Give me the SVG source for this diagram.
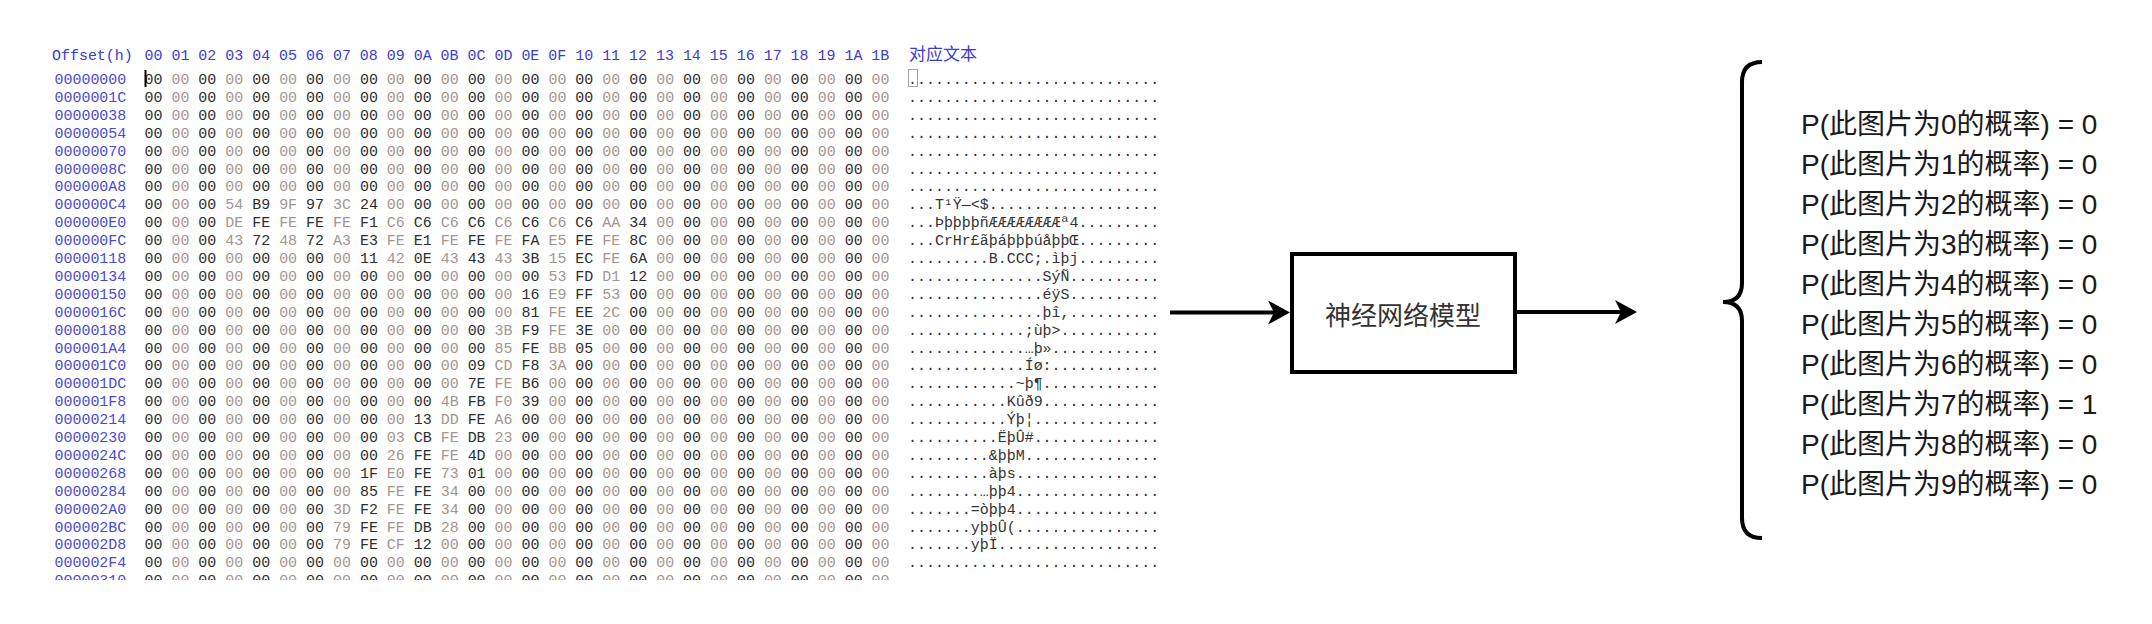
<svg xmlns="http://www.w3.org/2000/svg" width="2152" height="624" viewBox="0 0 2152 624">
<style>
.m{font-family:"Liberation Mono","DejaVu Sans Mono",monospace;font-size:14.96px;white-space:pre}
.h{fill:#3b3bd4}
.o{fill:#4a4ad8}
.d{fill:#2e2e2e}
.l{fill:#a3958f}
.t{fill:#333333}
.cjkh{font-family:"Noto Sans CJK SC","Liberation Sans",sans-serif;font-size:17px;fill:#3b3bd4}
.box{fill:#ffffff;stroke:#000000;stroke-width:4}
.lbl{font-family:"Noto Sans CJK SC","Liberation Sans",sans-serif;font-size:26px;fill:#333333}
.p{font-family:"Liberation Sans","Noto Sans CJK SC",sans-serif;font-size:28px;fill:#1a1a1a}
.conn{stroke:#000000;stroke-width:4;fill:none}
</style>
<defs>
<marker id="arrow" markerUnits="userSpaceOnUse" markerWidth="24" markerHeight="24" viewBox="0 0 24 24" refX="6" refY="12" orient="auto">
<path d="M0,0 L22,12 L0,24 L6,12 Z" fill="#000000"/>
</marker>
<clipPath id="hexclip"><rect x="0" y="0" width="1200" height="580"/></clipPath>
</defs>
<rect width="2152" height="624" fill="#ffffff"/>

<g id="hex-view" clip-path="url(#hexclip)">
<text class="m h" x="52" y="59.5">Offset(h)</text>
<text class="m h" x="144.5" y="59.5">00 01 02 03 04 05 06 07 08 09 0A 0B 0C 0D 0E 0F 10 11 12 13 14 15 16 17 18 19 1A 1B</text>
<text class="cjkh" x="909" y="59.5">对应文本</text>

<text class="m o" x="54.5" y="84">00000000</text>
<text class="m d" x="144.5" y="84">00 <tspan class="l">00</tspan> 00 <tspan class="l">00</tspan> 00 <tspan class="l">00</tspan> 00 <tspan class="l">00</tspan> 00 <tspan class="l">00</tspan> 00 <tspan class="l">00</tspan> 00 <tspan class="l">00</tspan> 00 <tspan class="l">00</tspan> 00 <tspan class="l">00</tspan> 00 <tspan class="l">00</tspan> 00 <tspan class="l">00</tspan> 00 <tspan class="l">00</tspan> 00 <tspan class="l">00</tspan> 00 <tspan class="l">00</tspan></text>
<text class="m t" x="908" y="84">............................</text>

<text class="m o" x="54.5" y="101.9">0000001C</text>
<text class="m d" x="144.5" y="101.9">00 <tspan class="l">00</tspan> 00 <tspan class="l">00</tspan> 00 <tspan class="l">00</tspan> 00 <tspan class="l">00</tspan> 00 <tspan class="l">00</tspan> 00 <tspan class="l">00</tspan> 00 <tspan class="l">00</tspan> 00 <tspan class="l">00</tspan> 00 <tspan class="l">00</tspan> 00 <tspan class="l">00</tspan> 00 <tspan class="l">00</tspan> 00 <tspan class="l">00</tspan> 00 <tspan class="l">00</tspan> 00 <tspan class="l">00</tspan></text>
<text class="m t" x="908" y="101.9">............................</text>

<text class="m o" x="54.5" y="119.8">00000038</text>
<text class="m d" x="144.5" y="119.8">00 <tspan class="l">00</tspan> 00 <tspan class="l">00</tspan> 00 <tspan class="l">00</tspan> 00 <tspan class="l">00</tspan> 00 <tspan class="l">00</tspan> 00 <tspan class="l">00</tspan> 00 <tspan class="l">00</tspan> 00 <tspan class="l">00</tspan> 00 <tspan class="l">00</tspan> 00 <tspan class="l">00</tspan> 00 <tspan class="l">00</tspan> 00 <tspan class="l">00</tspan> 00 <tspan class="l">00</tspan> 00 <tspan class="l">00</tspan></text>
<text class="m t" x="908" y="119.8">............................</text>

<text class="m o" x="54.5" y="137.7">00000054</text>
<text class="m d" x="144.5" y="137.7">00 <tspan class="l">00</tspan> 00 <tspan class="l">00</tspan> 00 <tspan class="l">00</tspan> 00 <tspan class="l">00</tspan> 00 <tspan class="l">00</tspan> 00 <tspan class="l">00</tspan> 00 <tspan class="l">00</tspan> 00 <tspan class="l">00</tspan> 00 <tspan class="l">00</tspan> 00 <tspan class="l">00</tspan> 00 <tspan class="l">00</tspan> 00 <tspan class="l">00</tspan> 00 <tspan class="l">00</tspan> 00 <tspan class="l">00</tspan></text>
<text class="m t" x="908" y="137.7">............................</text>

<text class="m o" x="54.5" y="155.6">00000070</text>
<text class="m d" x="144.5" y="155.6">00 <tspan class="l">00</tspan> 00 <tspan class="l">00</tspan> 00 <tspan class="l">00</tspan> 00 <tspan class="l">00</tspan> 00 <tspan class="l">00</tspan> 00 <tspan class="l">00</tspan> 00 <tspan class="l">00</tspan> 00 <tspan class="l">00</tspan> 00 <tspan class="l">00</tspan> 00 <tspan class="l">00</tspan> 00 <tspan class="l">00</tspan> 00 <tspan class="l">00</tspan> 00 <tspan class="l">00</tspan> 00 <tspan class="l">00</tspan></text>
<text class="m t" x="908" y="155.6">............................</text>

<text class="m o" x="54.5" y="173.5">0000008C</text>
<text class="m d" x="144.5" y="173.5">00 <tspan class="l">00</tspan> 00 <tspan class="l">00</tspan> 00 <tspan class="l">00</tspan> 00 <tspan class="l">00</tspan> 00 <tspan class="l">00</tspan> 00 <tspan class="l">00</tspan> 00 <tspan class="l">00</tspan> 00 <tspan class="l">00</tspan> 00 <tspan class="l">00</tspan> 00 <tspan class="l">00</tspan> 00 <tspan class="l">00</tspan> 00 <tspan class="l">00</tspan> 00 <tspan class="l">00</tspan> 00 <tspan class="l">00</tspan></text>
<text class="m t" x="908" y="173.5">............................</text>

<text class="m o" x="54.5" y="191.4">000000A8</text>
<text class="m d" x="144.5" y="191.4">00 <tspan class="l">00</tspan> 00 <tspan class="l">00</tspan> 00 <tspan class="l">00</tspan> 00 <tspan class="l">00</tspan> 00 <tspan class="l">00</tspan> 00 <tspan class="l">00</tspan> 00 <tspan class="l">00</tspan> 00 <tspan class="l">00</tspan> 00 <tspan class="l">00</tspan> 00 <tspan class="l">00</tspan> 00 <tspan class="l">00</tspan> 00 <tspan class="l">00</tspan> 00 <tspan class="l">00</tspan> 00 <tspan class="l">00</tspan></text>
<text class="m t" x="908" y="191.4">............................</text>

<text class="m o" x="54.5" y="209.3">000000C4</text>
<text class="m d" x="144.5" y="209.3">00 <tspan class="l">00</tspan> 00 <tspan class="l">54</tspan> B9 <tspan class="l">9F</tspan> 97 <tspan class="l">3C</tspan> 24 <tspan class="l">00</tspan> 00 <tspan class="l">00</tspan> 00 <tspan class="l">00</tspan> 00 <tspan class="l">00</tspan> 00 <tspan class="l">00</tspan> 00 <tspan class="l">00</tspan> 00 <tspan class="l">00</tspan> 00 <tspan class="l">00</tspan> 00 <tspan class="l">00</tspan> 00 <tspan class="l">00</tspan></text>
<text class="m t" x="908" y="209.3">...T¹Ÿ—&lt;$...................</text>

<text class="m o" x="54.5" y="227.2">000000E0</text>
<text class="m d" x="144.5" y="227.2">00 <tspan class="l">00</tspan> 00 <tspan class="l">DE</tspan> FE <tspan class="l">FE</tspan> FE <tspan class="l">FE</tspan> F1 <tspan class="l">C6</tspan> C6 <tspan class="l">C6</tspan> C6 <tspan class="l">C6</tspan> C6 <tspan class="l">C6</tspan> C6 <tspan class="l">AA</tspan> 34 <tspan class="l">00</tspan> 00 <tspan class="l">00</tspan> 00 <tspan class="l">00</tspan> 00 <tspan class="l">00</tspan> 00 <tspan class="l">00</tspan></text>
<text class="m t" x="908" y="227.2">...ÞþþþþñÆÆÆÆÆÆÆÆª4.........</text>

<text class="m o" x="54.5" y="245.1">000000FC</text>
<text class="m d" x="144.5" y="245.1">00 <tspan class="l">00</tspan> 00 <tspan class="l">43</tspan> 72 <tspan class="l">48</tspan> 72 <tspan class="l">A3</tspan> E3 <tspan class="l">FE</tspan> E1 <tspan class="l">FE</tspan> FE <tspan class="l">FE</tspan> FA <tspan class="l">E5</tspan> FE <tspan class="l">FE</tspan> 8C <tspan class="l">00</tspan> 00 <tspan class="l">00</tspan> 00 <tspan class="l">00</tspan> 00 <tspan class="l">00</tspan> 00 <tspan class="l">00</tspan></text>
<text class="m t" x="908" y="245.1">...CrHr£ãþáþþþúåþþŒ.........</text>

<text class="m o" x="54.5" y="263">00000118</text>
<text class="m d" x="144.5" y="263">00 <tspan class="l">00</tspan> 00 <tspan class="l">00</tspan> 00 <tspan class="l">00</tspan> 00 <tspan class="l">00</tspan> 11 <tspan class="l">42</tspan> 0E <tspan class="l">43</tspan> 43 <tspan class="l">43</tspan> 3B <tspan class="l">15</tspan> EC <tspan class="l">FE</tspan> 6A <tspan class="l">00</tspan> 00 <tspan class="l">00</tspan> 00 <tspan class="l">00</tspan> 00 <tspan class="l">00</tspan> 00 <tspan class="l">00</tspan></text>
<text class="m t" x="908" y="263">.........B.CCC;.ìþj.........</text>

<text class="m o" x="54.5" y="280.9">00000134</text>
<text class="m d" x="144.5" y="280.9">00 <tspan class="l">00</tspan> 00 <tspan class="l">00</tspan> 00 <tspan class="l">00</tspan> 00 <tspan class="l">00</tspan> 00 <tspan class="l">00</tspan> 00 <tspan class="l">00</tspan> 00 <tspan class="l">00</tspan> 00 <tspan class="l">53</tspan> FD <tspan class="l">D1</tspan> 12 <tspan class="l">00</tspan> 00 <tspan class="l">00</tspan> 00 <tspan class="l">00</tspan> 00 <tspan class="l">00</tspan> 00 <tspan class="l">00</tspan></text>
<text class="m t" x="908" y="280.9">...............SýÑ..........</text>

<text class="m o" x="54.5" y="298.8">00000150</text>
<text class="m d" x="144.5" y="298.8">00 <tspan class="l">00</tspan> 00 <tspan class="l">00</tspan> 00 <tspan class="l">00</tspan> 00 <tspan class="l">00</tspan> 00 <tspan class="l">00</tspan> 00 <tspan class="l">00</tspan> 00 <tspan class="l">00</tspan> 16 <tspan class="l">E9</tspan> FF <tspan class="l">53</tspan> 00 <tspan class="l">00</tspan> 00 <tspan class="l">00</tspan> 00 <tspan class="l">00</tspan> 00 <tspan class="l">00</tspan> 00 <tspan class="l">00</tspan></text>
<text class="m t" x="908" y="298.8">...............éÿS..........</text>

<text class="m o" x="54.5" y="316.7">0000016C</text>
<text class="m d" x="144.5" y="316.7">00 <tspan class="l">00</tspan> 00 <tspan class="l">00</tspan> 00 <tspan class="l">00</tspan> 00 <tspan class="l">00</tspan> 00 <tspan class="l">00</tspan> 00 <tspan class="l">00</tspan> 00 <tspan class="l">00</tspan> 81 <tspan class="l">FE</tspan> EE <tspan class="l">2C</tspan> 00 <tspan class="l">00</tspan> 00 <tspan class="l">00</tspan> 00 <tspan class="l">00</tspan> 00 <tspan class="l">00</tspan> 00 <tspan class="l">00</tspan></text>
<text class="m t" x="908" y="316.7">...............þî,..........</text>

<text class="m o" x="54.5" y="334.6">00000188</text>
<text class="m d" x="144.5" y="334.6">00 <tspan class="l">00</tspan> 00 <tspan class="l">00</tspan> 00 <tspan class="l">00</tspan> 00 <tspan class="l">00</tspan> 00 <tspan class="l">00</tspan> 00 <tspan class="l">00</tspan> 00 <tspan class="l">3B</tspan> F9 <tspan class="l">FE</tspan> 3E <tspan class="l">00</tspan> 00 <tspan class="l">00</tspan> 00 <tspan class="l">00</tspan> 00 <tspan class="l">00</tspan> 00 <tspan class="l">00</tspan> 00 <tspan class="l">00</tspan></text>
<text class="m t" x="908" y="334.6">.............;ùþ&gt;...........</text>

<text class="m o" x="54.5" y="352.5">000001A4</text>
<text class="m d" x="144.5" y="352.5">00 <tspan class="l">00</tspan> 00 <tspan class="l">00</tspan> 00 <tspan class="l">00</tspan> 00 <tspan class="l">00</tspan> 00 <tspan class="l">00</tspan> 00 <tspan class="l">00</tspan> 00 <tspan class="l">85</tspan> FE <tspan class="l">BB</tspan> 05 <tspan class="l">00</tspan> 00 <tspan class="l">00</tspan> 00 <tspan class="l">00</tspan> 00 <tspan class="l">00</tspan> 00 <tspan class="l">00</tspan> 00 <tspan class="l">00</tspan></text>
<text class="m t" x="908" y="352.5">.............…þ»............</text>

<text class="m o" x="54.5" y="370.4">000001C0</text>
<text class="m d" x="144.5" y="370.4">00 <tspan class="l">00</tspan> 00 <tspan class="l">00</tspan> 00 <tspan class="l">00</tspan> 00 <tspan class="l">00</tspan> 00 <tspan class="l">00</tspan> 00 <tspan class="l">00</tspan> 09 <tspan class="l">CD</tspan> F8 <tspan class="l">3A</tspan> 00 <tspan class="l">00</tspan> 00 <tspan class="l">00</tspan> 00 <tspan class="l">00</tspan> 00 <tspan class="l">00</tspan> 00 <tspan class="l">00</tspan> 00 <tspan class="l">00</tspan></text>
<text class="m t" x="908" y="370.4">.............Íø:............</text>

<text class="m o" x="54.5" y="388.3">000001DC</text>
<text class="m d" x="144.5" y="388.3">00 <tspan class="l">00</tspan> 00 <tspan class="l">00</tspan> 00 <tspan class="l">00</tspan> 00 <tspan class="l">00</tspan> 00 <tspan class="l">00</tspan> 00 <tspan class="l">00</tspan> 7E <tspan class="l">FE</tspan> B6 <tspan class="l">00</tspan> 00 <tspan class="l">00</tspan> 00 <tspan class="l">00</tspan> 00 <tspan class="l">00</tspan> 00 <tspan class="l">00</tspan> 00 <tspan class="l">00</tspan> 00 <tspan class="l">00</tspan></text>
<text class="m t" x="908" y="388.3">............~þ¶.............</text>

<text class="m o" x="54.5" y="406.2">000001F8</text>
<text class="m d" x="144.5" y="406.2">00 <tspan class="l">00</tspan> 00 <tspan class="l">00</tspan> 00 <tspan class="l">00</tspan> 00 <tspan class="l">00</tspan> 00 <tspan class="l">00</tspan> 00 <tspan class="l">4B</tspan> FB <tspan class="l">F0</tspan> 39 <tspan class="l">00</tspan> 00 <tspan class="l">00</tspan> 00 <tspan class="l">00</tspan> 00 <tspan class="l">00</tspan> 00 <tspan class="l">00</tspan> 00 <tspan class="l">00</tspan> 00 <tspan class="l">00</tspan></text>
<text class="m t" x="908" y="406.2">...........Kûð9.............</text>

<text class="m o" x="54.5" y="424.1">00000214</text>
<text class="m d" x="144.5" y="424.1">00 <tspan class="l">00</tspan> 00 <tspan class="l">00</tspan> 00 <tspan class="l">00</tspan> 00 <tspan class="l">00</tspan> 00 <tspan class="l">00</tspan> 13 <tspan class="l">DD</tspan> FE <tspan class="l">A6</tspan> 00 <tspan class="l">00</tspan> 00 <tspan class="l">00</tspan> 00 <tspan class="l">00</tspan> 00 <tspan class="l">00</tspan> 00 <tspan class="l">00</tspan> 00 <tspan class="l">00</tspan> 00 <tspan class="l">00</tspan></text>
<text class="m t" x="908" y="424.1">...........Ýþ¦..............</text>

<text class="m o" x="54.5" y="442">00000230</text>
<text class="m d" x="144.5" y="442">00 <tspan class="l">00</tspan> 00 <tspan class="l">00</tspan> 00 <tspan class="l">00</tspan> 00 <tspan class="l">00</tspan> 00 <tspan class="l">03</tspan> CB <tspan class="l">FE</tspan> DB <tspan class="l">23</tspan> 00 <tspan class="l">00</tspan> 00 <tspan class="l">00</tspan> 00 <tspan class="l">00</tspan> 00 <tspan class="l">00</tspan> 00 <tspan class="l">00</tspan> 00 <tspan class="l">00</tspan> 00 <tspan class="l">00</tspan></text>
<text class="m t" x="908" y="442">..........ËþÛ#..............</text>

<text class="m o" x="54.5" y="459.9">0000024C</text>
<text class="m d" x="144.5" y="459.9">00 <tspan class="l">00</tspan> 00 <tspan class="l">00</tspan> 00 <tspan class="l">00</tspan> 00 <tspan class="l">00</tspan> 00 <tspan class="l">26</tspan> FE <tspan class="l">FE</tspan> 4D <tspan class="l">00</tspan> 00 <tspan class="l">00</tspan> 00 <tspan class="l">00</tspan> 00 <tspan class="l">00</tspan> 00 <tspan class="l">00</tspan> 00 <tspan class="l">00</tspan> 00 <tspan class="l">00</tspan> 00 <tspan class="l">00</tspan></text>
<text class="m t" x="908" y="459.9">.........&amp;þþM...............</text>

<text class="m o" x="54.5" y="477.8">00000268</text>
<text class="m d" x="144.5" y="477.8">00 <tspan class="l">00</tspan> 00 <tspan class="l">00</tspan> 00 <tspan class="l">00</tspan> 00 <tspan class="l">00</tspan> 1F <tspan class="l">E0</tspan> FE <tspan class="l">73</tspan> 01 <tspan class="l">00</tspan> 00 <tspan class="l">00</tspan> 00 <tspan class="l">00</tspan> 00 <tspan class="l">00</tspan> 00 <tspan class="l">00</tspan> 00 <tspan class="l">00</tspan> 00 <tspan class="l">00</tspan> 00 <tspan class="l">00</tspan></text>
<text class="m t" x="908" y="477.8">.........àþs................</text>

<text class="m o" x="54.5" y="495.7">00000284</text>
<text class="m d" x="144.5" y="495.7">00 <tspan class="l">00</tspan> 00 <tspan class="l">00</tspan> 00 <tspan class="l">00</tspan> 00 <tspan class="l">00</tspan> 85 <tspan class="l">FE</tspan> FE <tspan class="l">34</tspan> 00 <tspan class="l">00</tspan> 00 <tspan class="l">00</tspan> 00 <tspan class="l">00</tspan> 00 <tspan class="l">00</tspan> 00 <tspan class="l">00</tspan> 00 <tspan class="l">00</tspan> 00 <tspan class="l">00</tspan> 00 <tspan class="l">00</tspan></text>
<text class="m t" x="908" y="495.7">........…þþ4................</text>

<text class="m o" x="54.5" y="513.6">000002A0</text>
<text class="m d" x="144.5" y="513.6">00 <tspan class="l">00</tspan> 00 <tspan class="l">00</tspan> 00 <tspan class="l">00</tspan> 00 <tspan class="l">3D</tspan> F2 <tspan class="l">FE</tspan> FE <tspan class="l">34</tspan> 00 <tspan class="l">00</tspan> 00 <tspan class="l">00</tspan> 00 <tspan class="l">00</tspan> 00 <tspan class="l">00</tspan> 00 <tspan class="l">00</tspan> 00 <tspan class="l">00</tspan> 00 <tspan class="l">00</tspan> 00 <tspan class="l">00</tspan></text>
<text class="m t" x="908" y="513.6">.......=òþþ4................</text>

<text class="m o" x="54.5" y="531.5">000002BC</text>
<text class="m d" x="144.5" y="531.5">00 <tspan class="l">00</tspan> 00 <tspan class="l">00</tspan> 00 <tspan class="l">00</tspan> 00 <tspan class="l">79</tspan> FE <tspan class="l">FE</tspan> DB <tspan class="l">28</tspan> 00 <tspan class="l">00</tspan> 00 <tspan class="l">00</tspan> 00 <tspan class="l">00</tspan> 00 <tspan class="l">00</tspan> 00 <tspan class="l">00</tspan> 00 <tspan class="l">00</tspan> 00 <tspan class="l">00</tspan> 00 <tspan class="l">00</tspan></text>
<text class="m t" x="908" y="531.5">.......yþþÛ(................</text>

<text class="m o" x="54.5" y="549.4">000002D8</text>
<text class="m d" x="144.5" y="549.4">00 <tspan class="l">00</tspan> 00 <tspan class="l">00</tspan> 00 <tspan class="l">00</tspan> 00 <tspan class="l">79</tspan> FE <tspan class="l">CF</tspan> 12 <tspan class="l">00</tspan> 00 <tspan class="l">00</tspan> 00 <tspan class="l">00</tspan> 00 <tspan class="l">00</tspan> 00 <tspan class="l">00</tspan> 00 <tspan class="l">00</tspan> 00 <tspan class="l">00</tspan> 00 <tspan class="l">00</tspan> 00 <tspan class="l">00</tspan></text>
<text class="m t" x="908" y="549.4">.......yþÏ..................</text>

<text class="m o" x="54.5" y="567.3">000002F4</text>
<text class="m d" x="144.5" y="567.3">00 <tspan class="l">00</tspan> 00 <tspan class="l">00</tspan> 00 <tspan class="l">00</tspan> 00 <tspan class="l">00</tspan> 00 <tspan class="l">00</tspan> 00 <tspan class="l">00</tspan> 00 <tspan class="l">00</tspan> 00 <tspan class="l">00</tspan> 00 <tspan class="l">00</tspan> 00 <tspan class="l">00</tspan> 00 <tspan class="l">00</tspan> 00 <tspan class="l">00</tspan> 00 <tspan class="l">00</tspan> 00 <tspan class="l">00</tspan></text>
<text class="m t" x="908" y="567.3">............................</text>

<text class="m o" x="54.5" y="585.2">00000310</text>
<text class="m d" x="144.5" y="585.2">00 <tspan class="l">00</tspan> 00 <tspan class="l">00</tspan> 00 <tspan class="l">00</tspan> 00 <tspan class="l">00</tspan> 00 <tspan class="l">00</tspan> 00 <tspan class="l">00</tspan> 00 <tspan class="l">00</tspan> 00 <tspan class="l">00</tspan> 00 <tspan class="l">00</tspan> 00 <tspan class="l">00</tspan> 00 <tspan class="l">00</tspan> 00 <tspan class="l">00</tspan> 00 <tspan class="l">00</tspan> 00 <tspan class="l">00</tspan></text>

<rect x="144.5" y="70" width="2" height="17" fill="#000000"/>
<rect x="908.5" y="69.5" width="9" height="17" fill="none" stroke="#444444" stroke-width="1" stroke-dasharray="1 1"/>
</g>

<g id="model">
<rect class="box" x="1292" y="254" width="223" height="118"/>
<text class="lbl" x="1403" y="325" text-anchor="middle">神经网络模型</text>
</g>

<g id="output">
<path d="M1762,62 Q1742,62 1742,82 L1742,283 Q1742,302 1723,302 Q1742,302 1742,321 L1742,518 Q1742,538 1762,538" fill="none" stroke="#000000" stroke-width="4"/>
<text class="p" x="1801" y="134">P(此图片为0的概率) = 0</text>
<text class="p" x="1801" y="174">P(此图片为1的概率) = 0</text>
<text class="p" x="1801" y="214">P(此图片为2的概率) = 0</text>
<text class="p" x="1801" y="254">P(此图片为3的概率) = 0</text>
<text class="p" x="1801" y="294">P(此图片为4的概率) = 0</text>
<text class="p" x="1801" y="334">P(此图片为5的概率) = 0</text>
<text class="p" x="1801" y="374">P(此图片为6的概率) = 0</text>
<text class="p" x="1801" y="414">P(此图片为7的概率) = 1</text>
<text class="p" x="1801" y="454">P(此图片为8的概率) = 0</text>
<text class="p" x="1801" y="494">P(此图片为9的概率) = 0</text>
</g>

<g id="connectors">
<line class="conn" x1="1170" y1="312.5" x2="1274" y2="312.5" marker-end="url(#arrow)"/>
<line class="conn" x1="1517" y1="312" x2="1621" y2="312" marker-end="url(#arrow)"/>
</g>
</svg>
